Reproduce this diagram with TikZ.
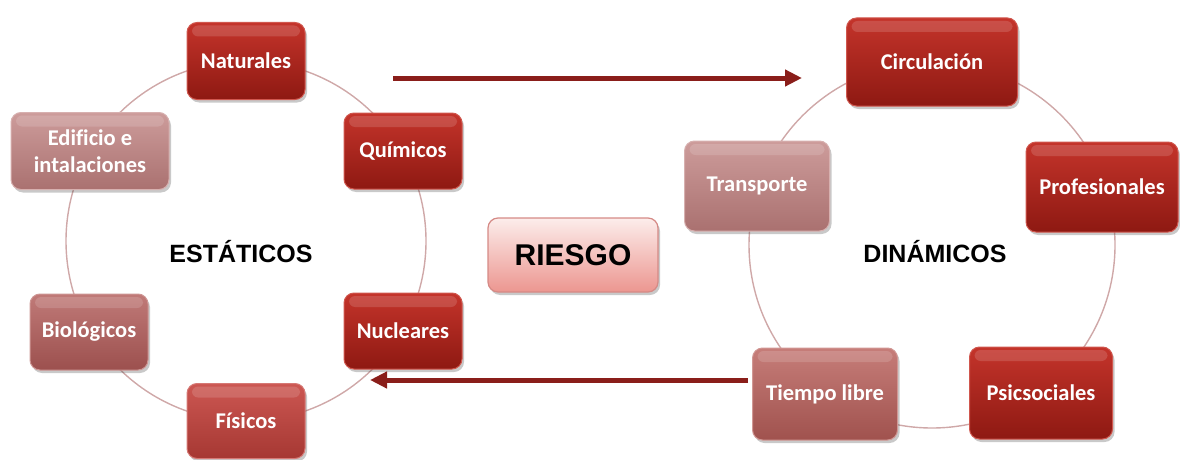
\documentclass[tikz,border=0pt]{standalone}
\usepackage{fontspec}
\setmainfont{Carlito}[Ligatures=NoCommon]
\newfontfamily\arialf{Liberation Sans}
\usetikzlibrary{arrows.meta,shadows}
\definecolor{ringc}{HTML}{CFA8A8}
\definecolor{arrc}{HTML}{8A1E1A}
\definecolor{dTop}{HTML}{C4342B}
\definecolor{dBot}{HTML}{8E1912}
\definecolor{dEdge}{HTML}{D0574E}
\definecolor{fTop}{HTML}{CC5752}
\definecolor{fBot}{HTML}{A63833}
\definecolor{bTop}{HTML}{C07A78}
\definecolor{bBot}{HTML}{9C504E}
\definecolor{eTop}{HTML}{CD9C9B}
\definecolor{eBot}{HTML}{AA7170}
\definecolor{tTop}{HTML}{C67D79}
\definecolor{tBot}{HTML}{A0524E}
\definecolor{rTop}{HTML}{FCEDEB}
\definecolor{rBot}{HTML}{EC9690}
\definecolor{rEdge}{HTML}{D58A86}
\tikzset{
  ring/.style={draw=ringc, line width=1.4pt},
  boxbase/.style={rounded corners=10pt, inner sep=2pt, align=center,
    font=\fontsize{22.5}{27}\selectfont\bfseries, text=white,
    line width=1pt,
    drop shadow={shadow xshift=2pt, shadow yshift=-3pt, opacity=0.3, fill=black!70},
    path picture={\fill[white,opacity=0.14,rounded corners=6pt]
      ([xshift=5pt,yshift=-3pt]path picture bounding box.north west) rectangle
      ([xshift=-5pt,yshift=-14pt]path picture bounding box.north east);}},
  darkbox/.style={boxbase, top color=dTop, bottom color=dBot, draw=dEdge},
  fisbox/.style={boxbase, top color=fTop, bottom color=fBot, draw=fTop!80!white},
  biobox/.style={boxbase, top color=bTop, bottom color=bBot, draw=bTop!80!white},
  edibox/.style={boxbase, top color=eTop, bottom color=eBot, draw=eTop!80!white},
  tiebox/.style={boxbase, top color=tTop, bottom color=tBot, draw=tTop!80!white},
  riskbox/.style={rounded corners=10pt, top color=rTop, bottom color=rBot, draw=rEdge,
    line width=1.2pt, minimum width=170pt, minimum height=74pt,
    font=\arialf\fontsize{30}{32}\selectfont\bfseries, text=black,
    drop shadow={shadow xshift=2pt, shadow yshift=-3pt, opacity=0.3, fill=black!70}},
  title/.style={font=\arialf\fontsize{25}{28}\selectfont\bfseries, text=black},
  flow/.style={draw=arrc, line width=5pt, -{Triangle[length=17pt,width=16pt]}},
}
\begin{document}
\begin{tikzpicture}[x=1pt,y=-1pt]
\useasboundingbox (0,0) rectangle (1180,460);
% rings
\draw[ring] (246,241) circle (180);
\draw[ring] (932,245) circle (183);
% left cycle
\node[darkbox, minimum width=118pt, minimum height=77pt] (nat) at (246,61) {Naturales};
\node[darkbox, minimum width=118pt, minimum height=76pt] (qui) at (403,151) {Químicos};
\node[darkbox, minimum width=118pt, minimum height=76pt] (nuc) at (403,331) {Nucleares};
\node[fisbox, minimum width=118pt, minimum height=75pt] (fis) at (246,421) {Físicos};
\node[biobox, minimum width=118pt, minimum height=76pt] (bio) at (89,332) {Biológicos};
\node[edibox, minimum width=158pt, minimum height=77pt] (edi) at (90,151) {Edificio e\\intalaciones};
\node[title] (est) at (241,252) {ESTÁTICOS};
% right cycle
\node[darkbox, minimum width=171pt, minimum height=88pt] (cir) at (932,62) {Circulación};
\node[darkbox, minimum width=152pt, minimum height=90pt] (pro) at (1102,187) {Profesionales};
\node[darkbox, minimum width=143pt, minimum height=92pt] (psi) at (1041,393) {Psicsociales};
\node[tiebox, minimum width=145pt, minimum height=92pt] (tie) at (825,394) {Tiempo libre};
\node[edibox, minimum width=145pt, minimum height=90pt] (tra) at (757,186) {Transporte};
\node[title] (din) at (935,252) {DINÁMICOS};
% centre
\node[riskbox] (risk) at (573,255) {RIESGO};
% arrows
\coordinate (a1s) at (393,78);
\coordinate (a1e) at (802,78);
\coordinate (a2s) at (748,380);
\coordinate (a2e) at (370,380);
\draw[flow] (a1s) -- (a1e);
\draw[flow] (a2s) -- (a2e);
\end{tikzpicture}
\end{document}
